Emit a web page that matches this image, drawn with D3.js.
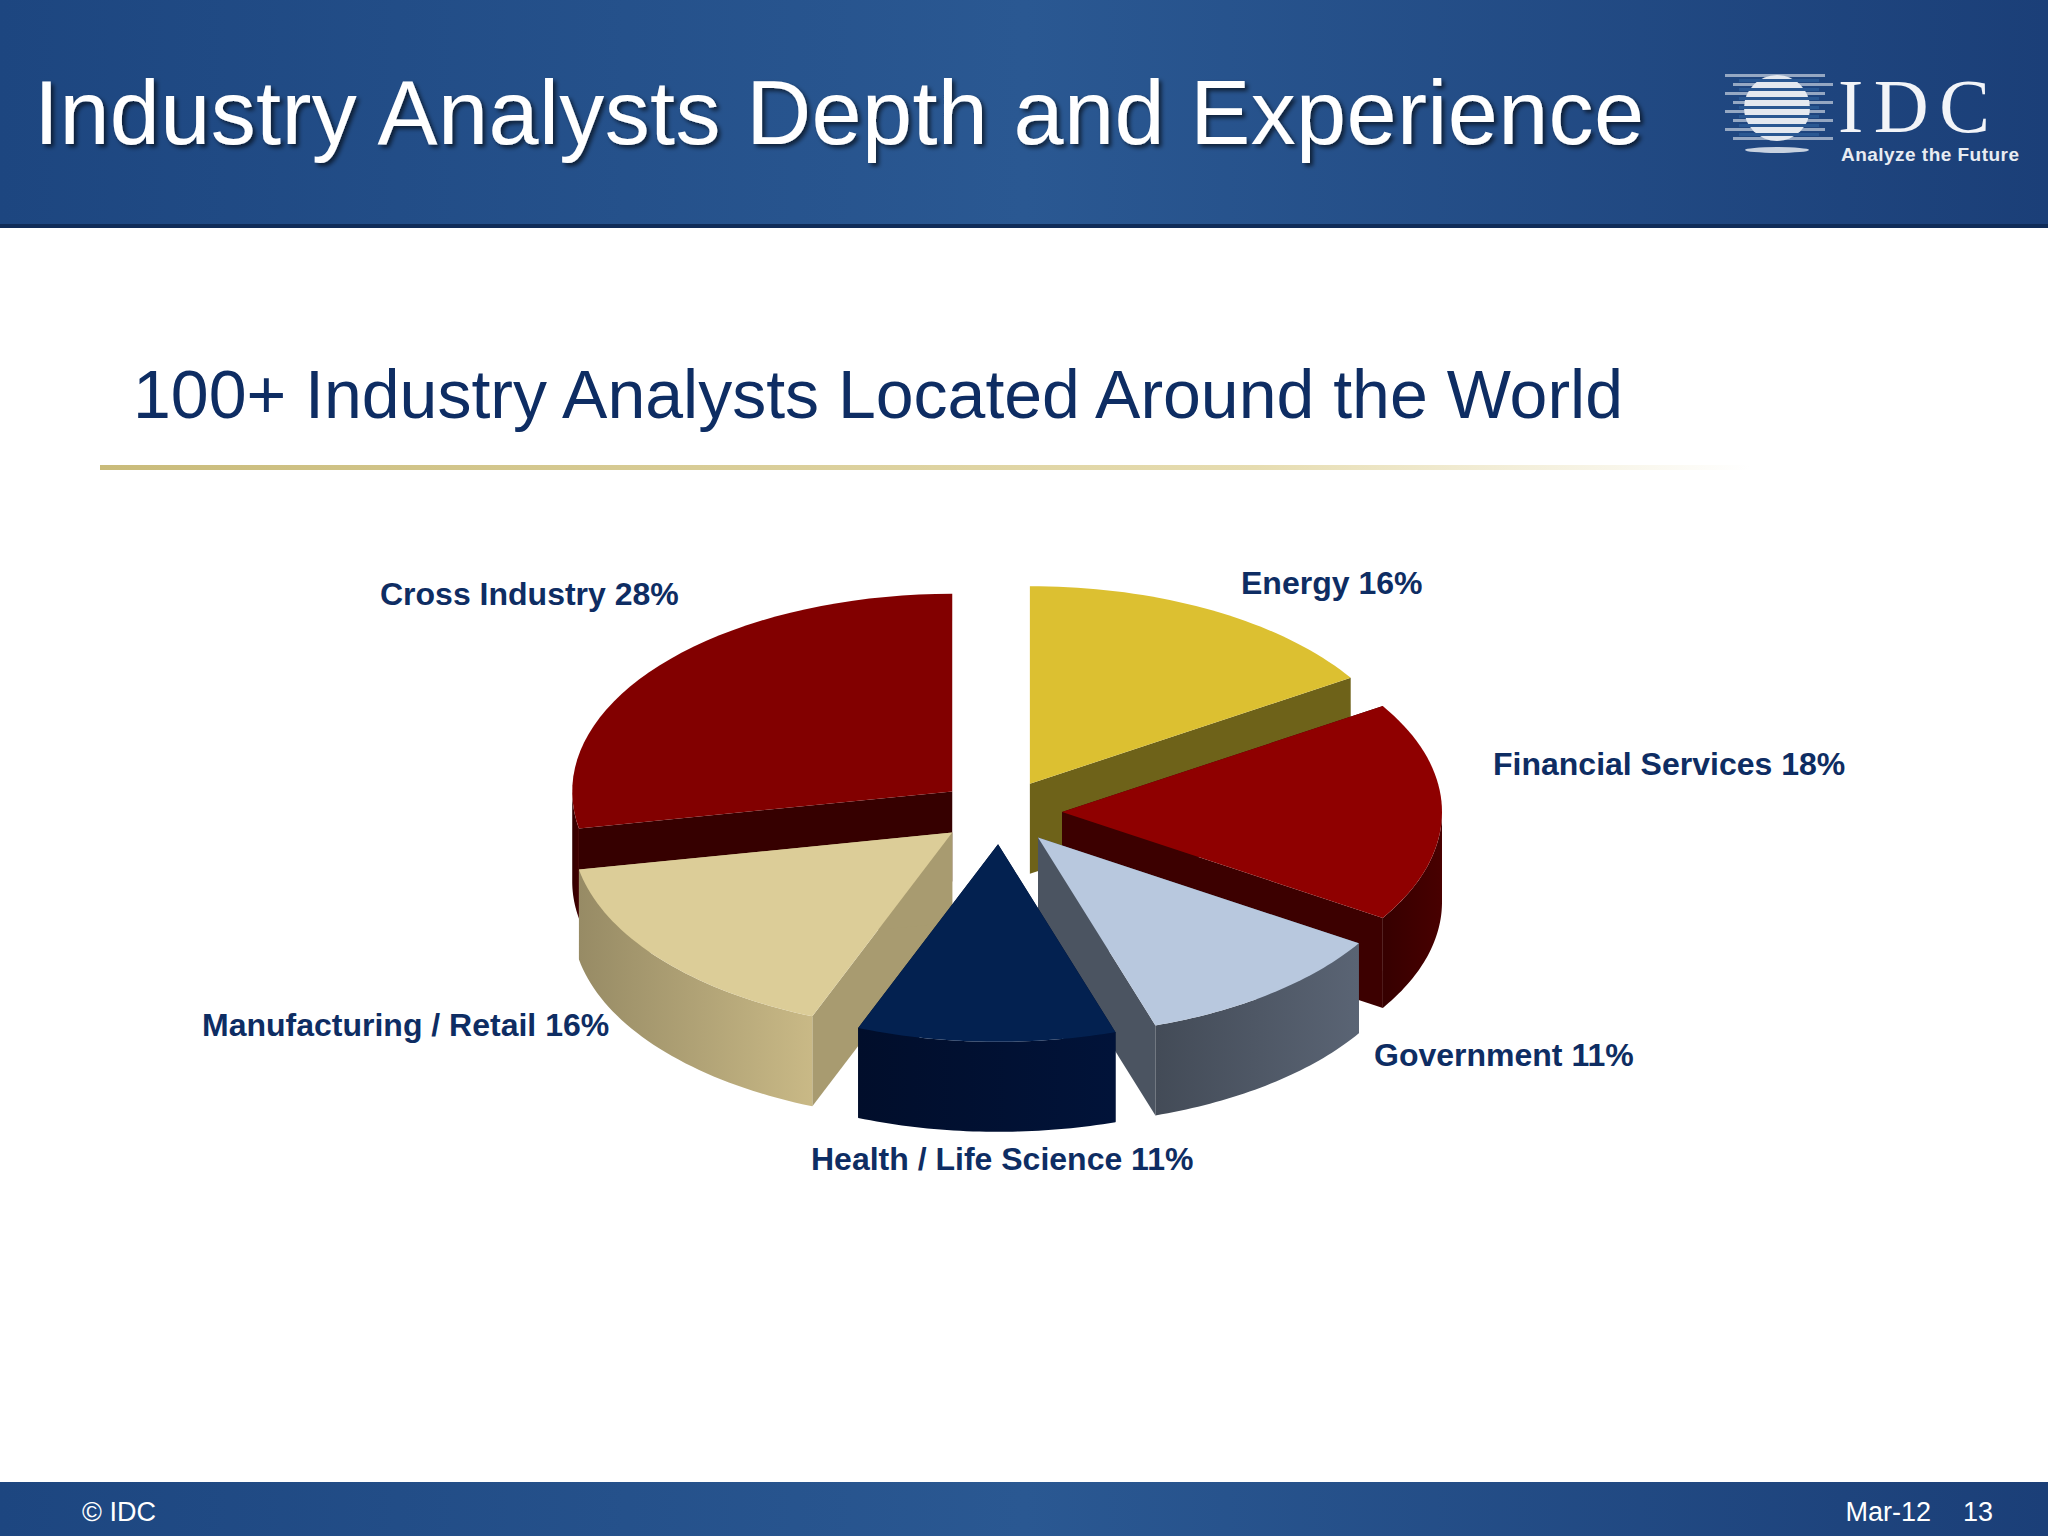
<!DOCTYPE html>
<html><head><meta charset="utf-8">
<script src="https://cdn.jsdelivr.net/npm/d3@7"></script>
<style>body{margin:0;background:#fff}svg{display:block}</style>
</head><body>
<script>
const categories = ["Energy","Financial Services","Government","Health / Life Science","Manufacturing / Retail","Cross Industry"];
const values = [16,18,11,11,16,28];
const labels = ["Energy 16%","Financial Services 18%","Government 11%","Health / Life Science 11%","Manufacturing / Retail 16%","Cross Industry 28%"];
const topColors = ["#dcc031","#8f0000","#b8c8de","#032150","#dccd98","#820000"];
const sideColors = ["#6e6219","#3c0000","#4b5461","#011030","#a89b70","#360000"];
const labelPos = [[1241,586],[1493,767],[1374,1058],[811,1162],[202,1028],[380,597]];

const W=2048,H=1536;
const svg=d3.select("body").append("svg").attr("width",W).attr("height",H);
const defs=svg.append("defs");
const hg=defs.append("linearGradient").attr("id","hdr").attr("x1",0).attr("x2",1);
hg.append("stop").attr("offset",0).attr("stop-color","#1d4680");
hg.append("stop").attr("offset",0.5).attr("stop-color","#2a5892");
hg.append("stop").attr("offset",1).attr("stop-color","#1b3f78");
const gl=defs.append("linearGradient").attr("id","gold").attr("x1",0).attr("x2",1);
gl.append("stop").attr("offset",0).attr("stop-color","#c9bb7a");
gl.append("stop").attr("offset",0.7).attr("stop-color","#e6dcb0");
gl.append("stop").attr("offset",1).attr("stop-color","#fff");
const sh=defs.append("filter").attr("id","sh");
sh.append("feDropShadow").attr("dx",3).attr("dy",3).attr("stdDeviation",2).attr("flood-color","#000").attr("flood-opacity",0.6);

// header
svg.append("rect").attr("width",W).attr("height",228).attr("fill","url(#hdr)");
svg.append("rect").attr("y",224).attr("width",W).attr("height",4).attr("fill","#102c58");
svg.append("text").attr("x",34).attr("y",144).attr("fill","#fff").attr("font-family","Liberation Sans, Arial").attr("font-size",90).attr("textLength",1610).attr("filter","url(#sh)").text("Industry Analysts Depth and Experience");
// logo
const lg=svg.append("g").attr("transform","translate(1725,70)");
d3.range(8).forEach(i=>lg.append("rect").attr("x",i%2?8:0).attr("y",4+i*9).attr("width",100).attr("height",3).attr("fill","#c8d2e0").attr("opacity",0.7));
lg.append("circle").attr("cx",52).attr("cy",38).attr("r",33).attr("fill","#e4e9f0");
d3.range(7).forEach(i=>lg.append("rect").attr("x",14).attr("y",9+i*9).attr("width",80).attr("height",3).attr("fill","#2a5892"));
lg.append("ellipse").attr("cx",52).attr("cy",80).attr("rx",32).attr("ry",3).attr("fill","#c8d2e0");
svg.append("text").attr("x",1838).attr("y",132).attr("fill","#f2f4f8").attr("font-family","Liberation Serif, serif").attr("font-size",76).attr("textLength",152).text("IDC");
svg.append("text").attr("x",1841).attr("y",161).attr("fill","#e8ecf2").attr("font-family","Liberation Sans Narrow, Arial").attr("font-weight","bold").attr("font-size",19).attr("textLength",178).text("Analyze the Future");

// subtitle
svg.append("text").attr("x",133).attr("y",418).attr("fill","#0e2d63").attr("font-family","Liberation Sans, Arial").attr("font-size",68).attr("textLength",1490).text("100+ Industry Analysts Located Around the World");
svg.append("rect").attr("x",100).attr("y",465).attr("width",1650).attr("height",5).attr("fill","url(#gold)");

// footer
svg.append("rect").attr("y",1482).attr("width",W).attr("height",54).attr("fill","url(#hdr)");
const ft=(x,t,a)=>svg.append("text").attr("x",x).attr("y",1521).attr("fill","#fff").attr("font-family","Liberation Sans, Arial").attr("font-size",27).attr("text-anchor",a).text(t);
ft(82,"© IDC","start"); ft(1931,"Mar-12","end"); ft(1993,"13","end");

// 3D pie
const cx=1000, cy=812, R=380, k=0.52, depth=90, explode=62;
const pie=d3.pie().sort(null).value(d=>d)(values);
const P=(a,r,ox,oy,dz)=>[ox+r*Math.sin(a), oy-r*Math.cos(a)*k+dz];
const slices=pie.map((p,i)=>{
  const mid=(p.startAngle+p.endAngle)/2;
  const ox=cx+explode*Math.sin(mid), oy=cy-explode*Math.cos(mid)*k;
  return {p,i,mid,ox,oy};
});
slices.sort((a,b)=>(-Math.cos(a.mid))-(-Math.cos(b.mid)));
const line=d3.line();
const g=svg.append("g");
slices.forEach(s=>{
  const {p,i,ox,oy}=s;
  const a0=p.startAngle,a1=p.endAngle;
  const arcPts=(dz)=>d3.range(0,41).map(j=>P(a0+(a1-a0)*j/40,R,ox,oy,dz));
  const c=[ox,oy];
  [a0,a1].forEach(a=>{
    const e=P(a,R,ox,oy,0);
    g.append("path").attr("d",line([c,e,[e[0],e[1]+depth],[c[0],c[1]+depth]])+"Z").attr("fill",sideColors[i]);
  });
  const lo=Math.max(a0,Math.PI/2), hi=Math.min(a1,3*Math.PI/2);
  if(hi>lo){
    const top=d3.range(0,41).map(j=>P(lo+(hi-lo)*j/40,R,ox,oy,0));
    const bot=top.map(q=>[q[0],q[1]+depth]).reverse();
    const gid="wg"+i;
    const wg=defs.append("linearGradient").attr("id",gid).attr("gradientUnits","userSpaceOnUse")
      .attr("x1",top[0][0]).attr("x2",top[top.length-1][0]).attr("y1",0).attr("y2",0);
    const base=d3.color(sideColors[i]);
    wg.append("stop").attr("offset",0).attr("stop-color",base.brighter(0.5));
    wg.append("stop").attr("offset",1).attr("stop-color",base.darker(0.3));
    g.append("path").attr("d",line(top.concat(bot))+"Z").attr("fill",`url(#${gid})`);
  }
  g.append("path").attr("d",line([c].concat(arcPts(0)))+"Z").attr("fill",topColors[i]);
});

labels.forEach((t,i)=>svg.append("text").attr("x",labelPos[i][0]).attr("y",labelPos[i][1]).attr("dominant-baseline","middle")
  .attr("fill","#0e2d63").attr("font-family","Liberation Sans, Arial").attr("font-weight","bold").attr("font-size",32).text(t));
</script>
</body></html>
